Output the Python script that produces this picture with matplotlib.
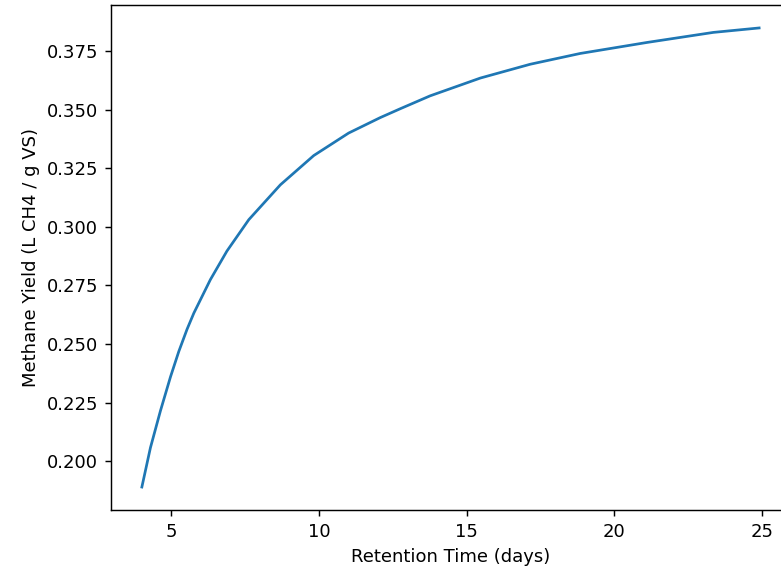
import matplotlib
matplotlib.use("Agg")
import matplotlib.pyplot as plt

# Puntos (tiempo de retencion vs rendimiento de metano)
retention_days = [4.0, 4.29, 4.63, 4.97, 5.25, 5.53, 5.76, 6.32, 6.88, 7.62,
                  8.69, 9.82, 11.0, 12.07, 12.75, 13.76, 15.46, 17.15,
                  18.84, 21.1, 23.35, 24.9]
methane_yield = [0.1889, 0.2057, 0.2215, 0.2360, 0.2468, 0.2563, 0.2632,
                 0.2775, 0.2897, 0.3031, 0.3180, 0.3305, 0.3401, 0.3467,
                 0.3505, 0.3560, 0.3636, 0.3695, 0.3741, 0.3788, 0.3831,
                 0.3850]

DPI = 130
fig = plt.figure(figsize=(781 / DPI, 575 / DPI), dpi=DPI)
# el grafico original esta recortado a la derecha: el eje se sale del lienzo
ax = fig.add_axes([111 / 781, 1 - 510 / 575, (790 - 111) / 781, 505 / 575])

ax.plot(retention_days, methane_yield)
ax.set_xlabel("Retention Time (days)")
ax.set_ylabel("Methane Yield (L CH4 / g VS)")

fig.savefig("out.png", dpi=DPI)
